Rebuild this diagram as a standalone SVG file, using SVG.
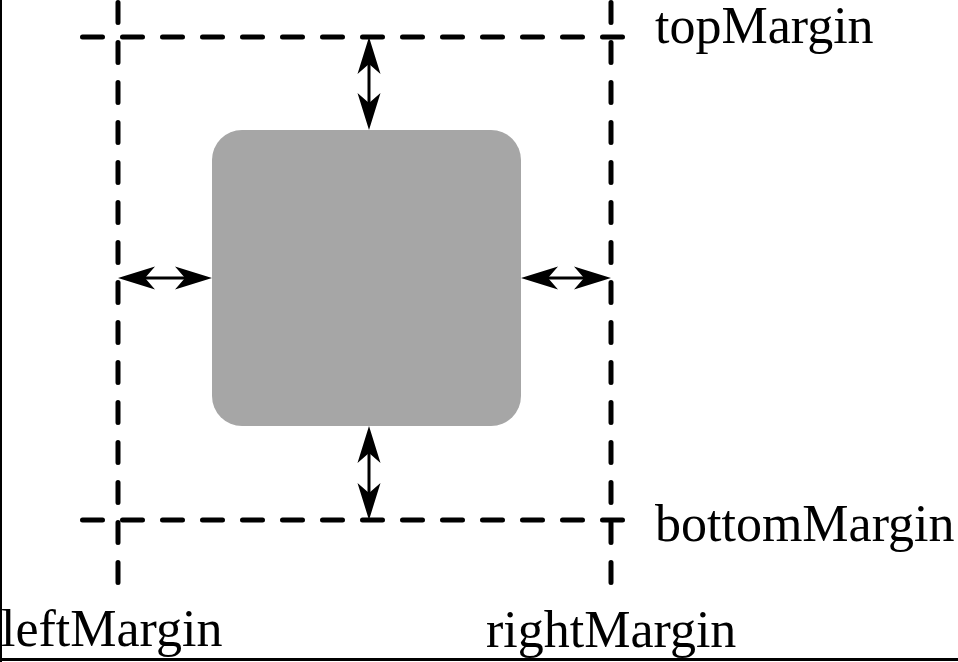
<svg xmlns="http://www.w3.org/2000/svg" width="958" height="662" viewBox="0 0 958 662">
<style>
.guide{fill:none;stroke:#000;stroke-width:5;stroke-linecap:round;stroke-dasharray:20 20}
.shaft{fill:none;stroke:#000;stroke-width:3}
.head{fill:#000;stroke:none}
.lbl{font-family:"Liberation Serif","Times New Roman",serif;font-size:52px;fill:#000}
.frame{stroke:#000;fill:none}
</style>
<defs>
<path id="ah" d="M0,0 L-37,-11.5 L-27,0 L-37,11.5 Z"/>
</defs>
<rect width="958" height="662" fill="#fff"/>
<g id="frame">
<line class="frame" x1="1" y1="0" x2="1" y2="662" stroke-width="2"/>
<line class="frame" x1="0" y1="659.5" x2="958" y2="659.5" stroke-width="3"/>
</g>
<g id="guides">
<line class="guide" x1="118" y1="2.5" x2="118" y2="585"/>
<line class="guide" x1="611" y1="2.5" x2="611" y2="585"/>
<line class="guide" x1="82.5" y1="37" x2="625" y2="37"/>
<line class="guide" x1="82.5" y1="520" x2="625" y2="520"/>
</g>
<g id="box">
<rect x="212" y="130" width="309" height="296" rx="30" ry="30" fill="#a6a6a6"/>
</g>
<g id="connectors">
<g id="arrow-top">
<line class="shaft" x1="369" y1="55" x2="369" y2="112"/>
<use href="#ah" class="head" transform="translate(369,37) rotate(-90)"/>
<use href="#ah" class="head" transform="translate(369,130) rotate(90)"/>
</g>
<g id="arrow-bottom">
<line class="shaft" x1="369" y1="444" x2="369" y2="502"/>
<use href="#ah" class="head" transform="translate(369,426) rotate(-90)"/>
<use href="#ah" class="head" transform="translate(369,520) rotate(90)"/>
</g>
<g id="arrow-left">
<line class="shaft" x1="136" y1="278" x2="194" y2="278"/>
<use href="#ah" class="head" transform="translate(118,278) rotate(180)"/>
<use href="#ah" class="head" transform="translate(212,278)"/>
</g>
<g id="arrow-right">
<line class="shaft" x1="539" y1="278" x2="593" y2="278"/>
<use href="#ah" class="head" transform="translate(521,278) rotate(180)"/>
<use href="#ah" class="head" transform="translate(611,278)"/>
</g>
</g>
<g id="labels">
<text id="topMargin" class="lbl" x="655" y="43">topMargin</text>
<text id="bottomMargin" class="lbl" x="655" y="541">bottomMargin</text>
<text id="leftMargin" class="lbl" x="1" y="646">leftMargin</text>
<text id="rightMargin" class="lbl" x="486" y="647">rightMargin</text>
</g>
</svg>
